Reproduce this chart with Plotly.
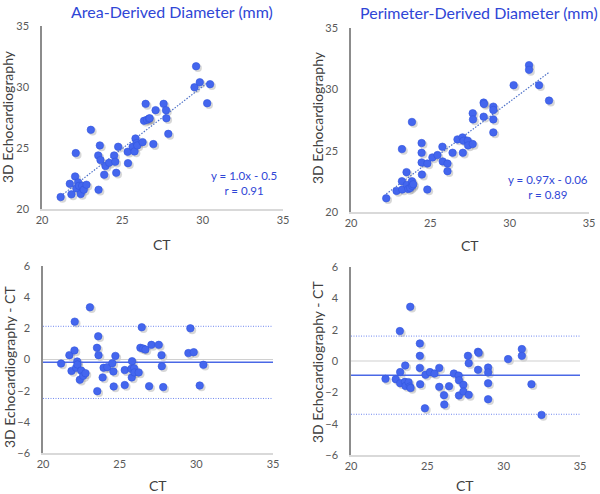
import numpy as np
import plotly.graph_objects as go

# ---------------- data ----------------
# Area-derived diameter: CT vs 3D echo
area_ct = [21.16, 21.73, 21.83, 22.06, 22.10, 22.14, 22.25, 22.30, 22.41, 22.50, 22.60, 22.77,
           23.04, 23.52, 23.50, 23.60, 23.64, 23.87, 23.95, 24.18, 24.49, 24.56, 24.62, 24.74,
           25.33, 25.35, 25.64, 25.76, 25.82, 25.89, 25.93, 26.26, 26.35, 26.45, 26.53, 26.66,
           26.70, 26.93, 27.07, 27.57, 27.72, 27.74, 27.86, 29.59, 29.49, 29.82, 30.28, 30.46]
area_echo = [20.98, 22.07, 21.20, 22.67, 24.58, 21.69, 22.18, 21.90, 21.23, 21.90, 21.58, 21.99,
             26.49, 21.58, 24.39, 25.21, 24.01, 22.81, 23.52, 23.79, 24.39, 23.87, 22.97, 25.10,
             24.69, 23.76, 25.10, 24.72, 25.78, 25.40, 25.21, 25.48, 27.23, 28.62, 27.31, 27.39,
             27.44, 25.32, 28.10, 28.62, 28.10, 27.44, 26.16, 31.70, 29.98, 30.39, 28.67, 30.23]

# Perimeter-derived diameter: CT vs 3D echo
perim_ct = [22.22, 22.87, 23.21, 23.21, 23.23, 23.50, 23.52, 23.61, 23.73, 23.84, 23.84, 23.86,
            23.92, 24.45, 24.45, 24.45, 24.47, 24.81, 24.81, 25.13, 25.45, 25.76, 25.78, 26.08,
            26.08, 26.40, 26.71, 27.03, 27.05, 27.09, 27.36, 27.38, 27.67, 27.67, 27.69, 28.36,
            28.38, 28.36, 28.97, 28.97, 28.97, 28.97, 30.25, 31.22, 31.22, 31.85, 32.48]
perim_echo = [21.12, 21.72, 25.13, 22.51, 21.83, 23.25, 22.21, 21.88, 21.96, 27.34, 22.51, 22.13,
              22.26, 25.62, 24.83, 24.04, 23.05, 21.83, 23.95, 24.45, 24.64, 25.32, 24.12, 23.95,
              23.33, 24.83, 25.92, 26.08, 24.83, 25.81, 25.81, 25.43, 25.54, 28.05, 27.55, 28.92,
              28.81, 27.77, 28.59, 28.32, 27.55, 26.49, 30.34, 31.97, 31.59, 30.34, 29.08]

# Bland-Altman, area-derived
ba_area_x = [21.18, 21.72, 21.86, 22.05, 22.07, 22.16, 22.23, 22.25, 22.40, 22.49, 22.62, 22.77,
             23.06, 23.52, 23.54, 23.60, 23.62, 23.89, 23.95, 24.19, 24.52, 24.59, 24.61, 24.72,
             25.33, 25.33, 25.76, 25.81, 25.79, 25.94, 25.96, 26.24, 26.35, 26.44, 26.53, 26.68,
             26.92, 27.07, 27.55, 27.73, 27.75, 27.84, 29.48, 29.61, 29.83, 30.22, 30.46]
ba_area_y = [-0.26, 0.28, -0.73, 0.58, 2.43, -0.53, -0.13, -0.32, -1.30, -0.71, -1.05, -0.88,
             3.35, 0.75, -2.03, 1.49, 0.28, -1.15, -0.53, -0.49, -0.24, -0.77, -1.73, 0.23,
             -0.68, -1.64, -0.60, -0.11, -1.15, -0.56, -0.83, -0.83, 0.75, 2.07, 0.70, 0.64,
             -1.71, 0.94, 0.94, 0.28, -0.43, -1.77, 0.41, 2.00, 0.47, -1.67, -0.34]
ba_area_lines = {"mean": -0.17, "upper": 2.13, "lower": -2.50}

# Bland-Altman, perimeter-derived
ba_perim_x = [22.26, 22.93, 23.20, 23.22, 23.22, 23.53, 23.55, 23.57, 23.77, 23.85, 23.88, 23.90,
              24.51, 24.51, 24.51, 24.53, 24.84, 24.88, 25.17, 25.47, 25.78, 25.78, 26.09, 26.11,
              26.42, 26.74, 27.05, 27.07, 27.07, 27.36, 27.36, 27.66, 27.71, 27.71, 28.32, 28.36,
              28.32, 28.98, 28.98, 28.98, 28.98, 30.29, 31.19, 31.19, 31.82, 32.48]
ba_perim_y = [-1.14, -1.16, 1.91, -0.71, -1.42, -1.33, -0.29, -1.59, -1.35, -1.63, 3.46, -1.72,
              1.12, 0.33, -0.44, -1.48, -3.02, -0.88, -0.71, -0.80, -0.44, -1.65, -2.18, -2.78,
              -1.61, -0.80, -0.93, -1.23, -2.20, -1.52, -1.95, 0.33, -0.14, -2.16, 0.59, 0.52,
              -0.56, -0.42, -0.73, -1.42, -2.44, 0.12, 0.76, 0.33, -1.48, -3.44]
ba_perim_lines = {"mean": -0.91, "upper": 1.59, "lower": -3.40}

titles = ["Area-Derived Diameter (mm)", "Perimeter-Derived Diameter (mm)"]
eq_text = ["y = 1.0x - 0.5<br>r = 0.91", "y = 0.97x - 0.06<br>r = 0.89"]
x_ticks = [20, 25, 30, 35]
y_ticks_top = [20, 25, 30, 35]
y_ticks_bot = [-6, -4, -2, 0, 2, 4, 6]

# ---------------- style ----------------
W, H = 600, 494
FONT = "Lato"
BLUE = "#4466ee"
LINEBLUE = "#4a68e6"
TXTBLUE = "#2f46d6"
TICKC = "#595959"
TITLEC = "#404040"
SHADOW = "rgba(110,110,110,0.28)"

def px_dom(a, b, total, flip=False):
    if flip:
        return [1 - b / total, 1 - a / total]
    return [a / total, b / total]

# panel pixel boxes: (x0, x1, ytop, ybottom); main panels use axes 5..8, shadows 1..4
panels = {
    5: (42, 283, 26, 209),
    6: (351, 589, 28, 212),
    7: (43, 273, 266, 453),
    8: (351, 580, 267, 455),
}
shadow_offset = 1.8

fig = go.Figure()

def tr(xs, ys, n, **kw):
    fig.add_trace(go.Scatter(x=xs, y=ys, xaxis="x%d" % n if n > 1 else "x",
                             yaxis="y%d" % n if n > 1 else "y",
                             hoverinfo="skip", showlegend=False, **kw))

# ---- top scatter panels ----
for n, (cx, ey) in zip([5, 6], [(area_ct, area_echo), (perim_ct, perim_echo)]):
    xs = np.array(cx); ys = np.array(ey)
    tr(xs, ys, n - 4, mode="markers", marker=dict(size=8, color=SHADOW))
    slope, icpt = np.polyfit(xs, ys, 1)
    lx = np.array([xs.min(), xs.max()])
    tr(lx, slope * lx + icpt, n, mode="lines", line=dict(color="#4f72c8", width=1.2, dash="1.5px,1.5px"))
    tr(xs, ys, n, mode="markers", marker=dict(size=7.5, color=BLUE, line=dict(width=0.6, color="#3355dd")))

# ---- bottom Bland-Altman panels ----
for n, (bx, by, lines) in zip([7, 8], [(ba_area_x, ba_area_y, ba_area_lines),
                                       (ba_perim_x, ba_perim_y, ba_perim_lines)]):
    tr(bx, by, n - 4, mode="markers", marker=dict(size=8, color=SHADOW))
    tr([20, 35], [0, 0], n, mode="lines", line=dict(color="#d0d0d0", width=1.2))
    for key in ["upper", "lower"]:
        tr([20, 35], [lines[key]] * 2, n, mode="lines", line=dict(color="#7088f0", width=1, dash="1px,1.5px"))
    tr([20, 35], [lines["mean"]] * 2, n, mode="lines", line=dict(color=LINEBLUE, width=1.5))
    tr(bx, by, n, mode="markers", marker=dict(size=7.5, color=BLUE, line=dict(width=0.6, color="#3355dd")))

layout = dict(width=W, height=H, margin=dict(l=0, r=0, t=0, b=0, autoexpand=False),
              paper_bgcolor="white", plot_bgcolor="rgba(0,0,0,0)", showlegend=False,
              font=dict(family=FONT, color=TICKC))

def key(prefix, n):
    return prefix if n == 1 else prefix + str(n)

for n, (x0, x1, yt, yb) in panels.items():
    top = n <= 6
    xa = dict(domain=px_dom(x0, x1, W), range=[20, 35], tickvals=x_ticks, showgrid=False, zeroline=False,
              showline=True, linecolor="#d9d9d9", linewidth=1.5, ticks="", automargin=False,
              tickfont=dict(size=11, color=TICKC, family=FONT), anchor="y%d" % n, fixedrange=True)
    ya = dict(domain=px_dom(yt, yb, H, flip=True), showgrid=False, zeroline=False,
              showline=True, linecolor="#8c8c8c", linewidth=1.5, ticks="", automargin=False,
              tickfont=dict(size=11, color=TICKC, family=FONT), anchor="x%d" % n, fixedrange=True,
              ticklabelstandoff=9)
    if top:
        ya.update(range=[20, 35], tickvals=y_ticks_top)
    else:
        ya.update(range=[-6, 6], tickvals=y_ticks_bot)
    layout[key("xaxis", n)] = xa
    layout[key("yaxis", n)] = ya
    # shadow axes, shifted slightly right and down
    sn = n - 4
    sxa = dict(xa); sya = dict(ya)
    sxa.update(domain=px_dom(x0 + shadow_offset, x1 + shadow_offset, W), showline=False,
               showticklabels=False, anchor=key("y", sn))
    sya.update(domain=px_dom(yt + shadow_offset, yb + shadow_offset, H, flip=True), showline=False,
               showticklabels=False, anchor=key("x", sn))
    layout[key("xaxis", sn)] = sxa
    layout[key("yaxis", sn)] = sya

fig.update_layout(**layout)

ann = []
def add_text(text, x, y, size, color, angle=0):
    ann.append(dict(text=text, x=x / W, y=1 - y / H, xref="paper", yref="paper", showarrow=False,
                    font=dict(size=size, color=color, family=FONT), textangle=angle,
                    xanchor="center", yanchor="middle"))

add_text(titles[0], 172, 11, 16, TXTBLUE)
add_text(titles[1], 479, 13, 16, TXTBLUE)
add_text(eq_text[0], 244, 183, 11.5, TXTBLUE)
add_text(eq_text[1], 548, 187, 11.5, TXTBLUE)
add_text("CT", 162, 244, 14, TITLEC)
add_text("CT", 470, 245, 14, TITLEC)
add_text("CT", 158, 485, 14, TITLEC)
add_text("CT", 465, 485, 14, TITLEC)
add_text("3D Echocardiography", 8, 117, 14, TITLEC, -90)
add_text("3D Echocardiography", 317, 118, 14, TITLEC, -90)
add_text("3D Echocardiography - CT", 9, 367, 14, TITLEC, -90)
add_text("3D Echocardiography - CT", 317, 362, 14, TITLEC, -90)
fig.update_layout(annotations=ann)

fig.write_html("out.html", config={"displayModeBar": False},
               post_script="document.body.style.margin='0';document.body.style.overflow='hidden';")
